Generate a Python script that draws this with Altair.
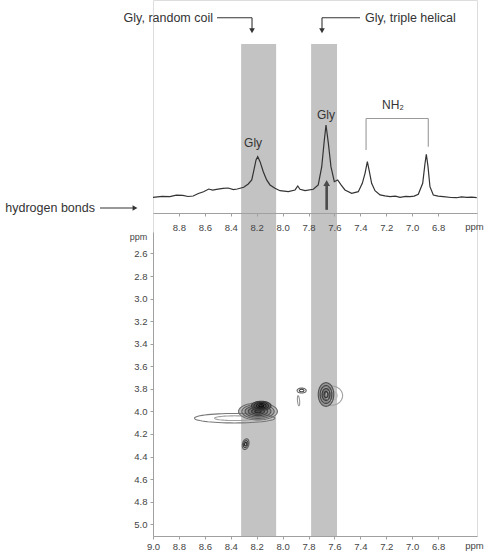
import altair as alt
import numpy as np
import pandas as pd

# ---------------- data ----------------
# 1D 1H spectrum trace (chemical shift in ppm, relative intensity)
spec_ppm = [9.00, 8.93, 8.87, 8.82, 8.77, 8.73, 8.69, 8.65, 8.61, 8.57, 8.54, 8.51, 8.46,
            8.42, 8.38, 8.35, 8.30, 8.265, 8.238, 8.221, 8.205, 8.192, 8.174, 8.149, 8.123,
            8.097, 8.059, 8.020, 7.956, 7.904, 7.883, 7.866, 7.827, 7.763, 7.725, 7.698,
            7.678, 7.665, 7.647, 7.627, 7.601, 7.575, 7.549, 7.519, 7.467, 7.416, 7.385,
            7.364, 7.346, 7.333, 7.313, 7.287, 7.248, 7.21, 7.171, 7.13, 7.094, 7.05, 7.017,
            6.985, 6.953, 6.919, 6.901, 6.891, 6.878, 6.863, 6.837, 6.80, 6.760, 6.70,
            6.657, 6.62, 6.579, 6.54, 6.502]
spec_int = [0.3, 1.5, 1.1, 3.2, 3.0, 1.4, 2.1, 5.5, 8.0, 11.7, 10.2, 11.3, 12.6,
            13.1, 11.0, 11.7, 14.1, 18.6, 24.2, 38.0, 51.8, 56.3, 49.4, 35.6, 24.2,
            17.3, 12.7, 9.4, 8.0, 10.4, 15.9, 11.3, 9.4, 11.3, 17.3, 42.5,
            79.4, 100.0, 74.8, 42.5, 21.8, 24.2, 17.3, 10.4, 5.8, 8.0, 19.6,
            33.4, 49.4, 38.0, 19.6, 9.4, 3.5, 2.2, 1.1, 2.0, 0.3, 1.6, 1.1,
            2.0, 4.4, 19.6, 47.2, 59.6, 42.5, 14.9, 3.5, 1.8, 1.1, 0.0,
            -0.3, 0.8, 0.3, 0.6, -0.3]

# shaded regions (ppm)
band_names = ["Gly, random coil", "Gly, triple helical"]
band_start = [8.32, 7.78]
band_end = [8.05, 7.58]

# 2D cross peaks: centre (ppm, ppm), half widths (ppm), number of contour levels,
# outer / inner grey level of the contour lines, filled or not, tilt (deg)
peak_x = [8.37, 8.19, 8.165, 8.285, 7.853, 7.877, 7.622, 7.665]
peak_y = [4.06, 4.0, 3.95, 4.29, 3.815, 3.905, 3.86, 3.85]
peak_rx = [0.31, 0.15, 0.075, 0.028, 0.035, 0.008, 0.085, 0.06]
peak_ry = [0.042, 0.075, 0.04, 0.042, 0.022, 0.045, 0.085, 0.105]
peak_levels = [2, 6, 4, 3, 2, 1, 2, 4]
peak_outer = [120, 110, 60, 90, 100, 150, 160, 80]
peak_inner = [160, 40, 10, 40, 60, 150, 180, 50]
peak_filled = [False, True, True, False, False, False, False, True]
peak_fill_outer = [255, 190, 100, 255, 255, 255, 255, 150]
peak_fill_inner = [255, 70, 30, 255, 255, 255, 255, 105]
peak_tilt = [0, 0, 0, 35, 0, 10, 0, 0]

top_ticks = [8.8, 8.6, 8.4, 8.2, 8.0, 7.8, 7.6, 7.4, 7.2, 7.0, 6.8]
bottom_ticks = [9.0, 8.8, 8.6, 8.4, 8.2, 8.0, 7.8, 7.6, 7.4, 7.2, 7.0, 6.8]
y_ticks = [2.6, 2.8, 3.0, 3.2, 3.4, 3.6, 3.8, 4.0, 4.2, 4.4, 4.6, 4.8, 5.0]

# ---------------- tables ----------------
spec_df = pd.DataFrame({"ppm": spec_ppm, "intensity": spec_int})
bands_df = pd.DataFrame({"name": band_names, "start": band_start, "end": band_end})


def grey(v):
    v = int(round(v))
    return "#%02x%02x%02x" % (v, v, v)


line_rows, fill_rows = [], []
ang = np.linspace(0, 2 * np.pi, 61)
half = np.linspace(np.pi, 0, 41)
for p in range(len(peak_x)):
    n = peak_levels[p]
    t = np.deg2rad(peak_tilt[p])
    for k in range(n):
        s = (n - k) / n
        frac = k / (n - 1) if n > 1 else 0
        col = grey(peak_outer[p] + (peak_inner[p] - peak_outer[p]) * frac)
        ex = peak_rx[p] * s * np.cos(ang)
        ey = peak_ry[p] * s * np.sin(ang)
        for i in range(len(ang)):
            line_rows.append({
                "ring": f"{p}-{k}", "i": i, "shade": col,
                "x": peak_x[p] + ex[i] * np.cos(t) - ey[i] * np.sin(t) * 0.5,
                "y": peak_y[p] + ex[i] * np.sin(t) * 2 + ey[i] * np.cos(t),
            })
        if peak_filled[p]:
            fcol = grey(peak_fill_outer[p] + (peak_fill_inner[p] - peak_fill_outer[p]) * frac)
            hx = peak_rx[p] * s * np.cos(half)
            hy = peak_ry[p] * s * np.sin(half)
            for i in range(len(half)):
                fill_rows.append({
                    "ring": f"{p}-{k}", "shade": fcol,
                    "x": peak_x[p] + hx[i],
                    "lo": peak_y[p] - hy[i], "hi": peak_y[p] + hy[i],
                })
cont_df = pd.DataFrame(line_rows)
fill_df = pd.DataFrame(fill_rows)

# ---------------- scales ----------------
W, H = 324, 536
FONT = "Liberation Sans"
TXT = "#333333"
AX = "#444444"


def xscale():
    return alt.Scale(domain=[9.0, 6.5], nice=False, zero=False)


def yspec():
    return alt.Scale(domain=[0, 100], range=[197.5, 125], nice=False, zero=False)


def y2d():
    return alt.Scale(domain=[2.41, 5.104], range=[232, H], nice=False, zero=False)


def xaxis(values, offset, lab_pad, title_y):
    return alt.Axis(orient="bottom", offset=offset, values=values, format=".1f",
                    tickSize=3, labelPadding=lab_pad, labelFontSize=9.5, labelColor=AX,
                    labelFont=FONT, labelFlush=False, labelOverlap=False,
                    domainColor="#a0a0a0", tickColor="#a0a0a0", grid=False,
                    title="ppm", titleX=321, titleY=title_y, titleBaseline="middle",
                    titleAlign="center", titleFontWeight="normal", titleFontSize=9.5,
                    titleColor=AX, titleFont=FONT, zindex=1)


# ---------------- layers ----------------
bands = alt.Chart(bands_df).mark_rect(color="#c3c3c3").encode(
    x=alt.X("start:Q", scale=xscale(), axis=None),
    x2="end:Q",
    y=alt.value(44),
    y2=alt.value(H),
)

fills = alt.Chart(fill_df).mark_area(opacity=1, interpolate="linear").encode(
    x=alt.X("x:Q", scale=xscale(), axis=None),
    y=alt.Y("lo:Q", scale=y2d(), axis=None),
    y2="hi:Q",
    detail="ring:N",
    color=alt.Color("shade:N", scale=None),
)

contours = alt.Chart(cont_df).mark_line(strokeWidth=1.1).encode(
    x=alt.X("x:Q", scale=xscale(), axis=xaxis(bottom_ticks, 0, 2, 9)),
    y=alt.Y("y:Q", scale=y2d(),
            axis=alt.Axis(values=y_ticks, format=".1f", tickSize=3, labelPadding=3,
                          labelFontSize=9.5, labelColor=AX, labelFont=FONT,
                          labelFlush=False, labelOverlap=False,
                          domainColor="#a0a0a0", tickColor="#a0a0a0", grid=False,
                          title="ppm", titleAngle=0, titleX=-15, titleY=236,
                          titleBaseline="middle", titleAlign="center",
                          titleFontWeight="normal", titleFontSize=9, titleColor=AX,
                          titleFont=FONT, zindex=1)),
    detail="ring:N",
    order="i:Q",
    color=alt.Color("shade:N", scale=None),
)

spectrum = alt.Chart(spec_df).mark_line(color="#333333", strokeWidth=1.2).encode(
    x=alt.X("ppm:Q", scale=xscale(), axis=xaxis(top_ticks, -(H - 213), 6, 13)),
    y=alt.Y("intensity:Q", scale=yspec(), axis=None),
)


# annotations, placed in spectrum coordinates (ppm, relative intensity)
def text_layer(df, align, size=12.5):
    return alt.Chart(df).mark_text(align=align, baseline="middle", font=FONT,
                                   fontSize=size, color=TXT).encode(
        x=alt.X("x:Q", scale=xscale(), axis=None),
        y=alt.Y("y:Q", scale=yspec(), axis=None),
        text="t:N",
    )


head_left = text_layer(pd.DataFrame({"t": ["Gly, random coil"], "x": [8.537], "y": [248]}), "right")
head_right = text_layer(pd.DataFrame({"t": ["Gly, triple helical"], "x": [7.364], "y": [248]}), "left")
hb_text = text_layer(pd.DataFrame({"t": ["hydrogen bonds"], "x": [9.448], "y": [-14.5]}), "right")
peak_labels = text_layer(pd.DataFrame({"t": ["Gly", "Gly", "NH₂"],
                                       "x": [8.228, 7.665, 7.148],
                                       "y": [75, 114, 127]}), "center", 12)

seg_df = pd.DataFrame({
    "x": [8.506, 8.236, 7.403, 7.696, 9.409, 7.356, 7.356, 6.876],
    "x2": [8.236, 8.236, 7.696, 7.696, 9.155, 6.876, 7.356, 6.876],
    "y": [248, 248, 248, 248, -14.5, 109, 109, 109],
    "y2": [248, 231, 248, 231, -14.5, 109, 65.5, 70],
    "c": ["#333333"] * 5 + ["#9a9a9a"] * 3,
})
segments = alt.Chart(seg_df).mark_rule(strokeWidth=1.1).encode(
    x=alt.X("x:Q", scale=xscale(), axis=None), x2="x2:Q",
    y=alt.Y("y:Q", scale=yspec(), axis=None), y2="y2:Q",
    color=alt.Color("c:N", scale=None),
)

hbond = alt.Chart(pd.DataFrame({"x": [7.66], "y": [-17], "y2": [19]})).mark_rule(
    strokeWidth=2.6, color="#4a4a4a").encode(
    x=alt.X("x:Q", scale=xscale(), axis=None),
    y=alt.Y("y:Q", scale=yspec(), axis=None), y2="y2:Q",
)


def head(x, y, shape, size=32, color="#333333"):
    return alt.Chart(pd.DataFrame({"x": [x], "y": [y]})).mark_point(
        shape=shape, filled=True, size=size, color=color, opacity=1).encode(
        x=alt.X("x:Q", scale=xscale(), axis=None),
        y=alt.Y("y:Q", scale=yspec(), axis=None),
    )


heads = [
    head(8.236, 230, "triangle-down"),
    head(7.696, 230, "triangle-down"),
    head(9.139, -14.5, "triangle-right"),
    head(7.66, 20, "triangle-up", 45, "#4a4a4a"),
]

chart = alt.layer(
    bands, fills, contours, spectrum, segments, hbond, *heads,
    head_left, head_right, hb_text, peak_labels,
).resolve_scale(x="independent", y="independent").resolve_axis(
    x="independent", y="independent"
).properties(
    width=W, height=H,
    autosize=alt.AutoSizeParams(type="none"),
    padding={"left": 153, "top": 0, "right": 10, "bottom": 22},
).configure_view(stroke=None).configure(background="white")

chart.save("out.html", embed_options={"renderer": "svg", "actions": False})
